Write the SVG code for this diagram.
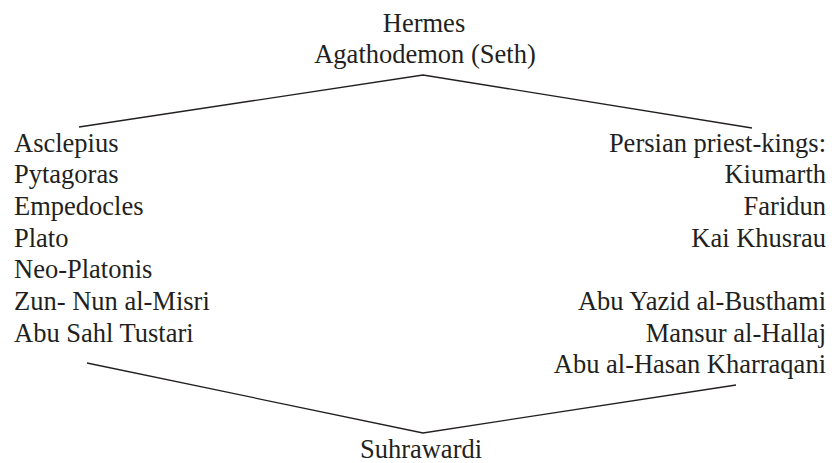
<svg xmlns="http://www.w3.org/2000/svg" width="832" height="463" viewBox="0 0 832 463">
<style>
text{font-family:"Liberation Serif","Times New Roman",serif;font-size:26.5px;fill:#231f20}
.c{text-anchor:middle}
.r{text-anchor:end}
.ln{fill:none;stroke:#231f20;stroke-width:1.3}
</style>
<rect width="832" height="463" fill="#fff"/>
<g id="top">
<text class="c" x="424" y="32">Hermes</text>
<text class="c" x="425" y="63">Agathodemon (Seth)</text>
</g>
<g id="left">
<text x="14" y="152">Asclepius</text>
<text x="14" y="183">Pytagoras</text>
<text x="14" y="215">Empedocles</text>
<text x="14" y="247">Plato</text>
<text x="14" y="278">Neo-Platonis</text>
<text x="14" y="310">Zun- Nun al-Misri</text>
<text x="14" y="342">Abu Sahl Tustari</text>
</g>
<g id="right">
<text class="r" x="826" y="152">Persian priest-kings:</text>
<text class="r" x="826" y="183">Kiumarth</text>
<text class="r" x="826" y="215">Faridun</text>
<text class="r" x="826" y="247">Kai Khusrau</text>
<text class="r" x="826" y="310">Abu Yazid al-Busthami</text>
<text class="r" x="826" y="342">Mansur al-Hallaj</text>
<text class="r" x="826" y="373">Abu al-Hasan Kharraqani</text>
</g>
<g id="bottom">
<text class="c" x="421" y="458">Suhrawardi</text>
</g>
<g id="connectors">
<polyline class="ln" points="79,127 423,75 752,128"/>
<polyline class="ln" points="87,363 423,433 736,385"/>
</g>
</svg>
